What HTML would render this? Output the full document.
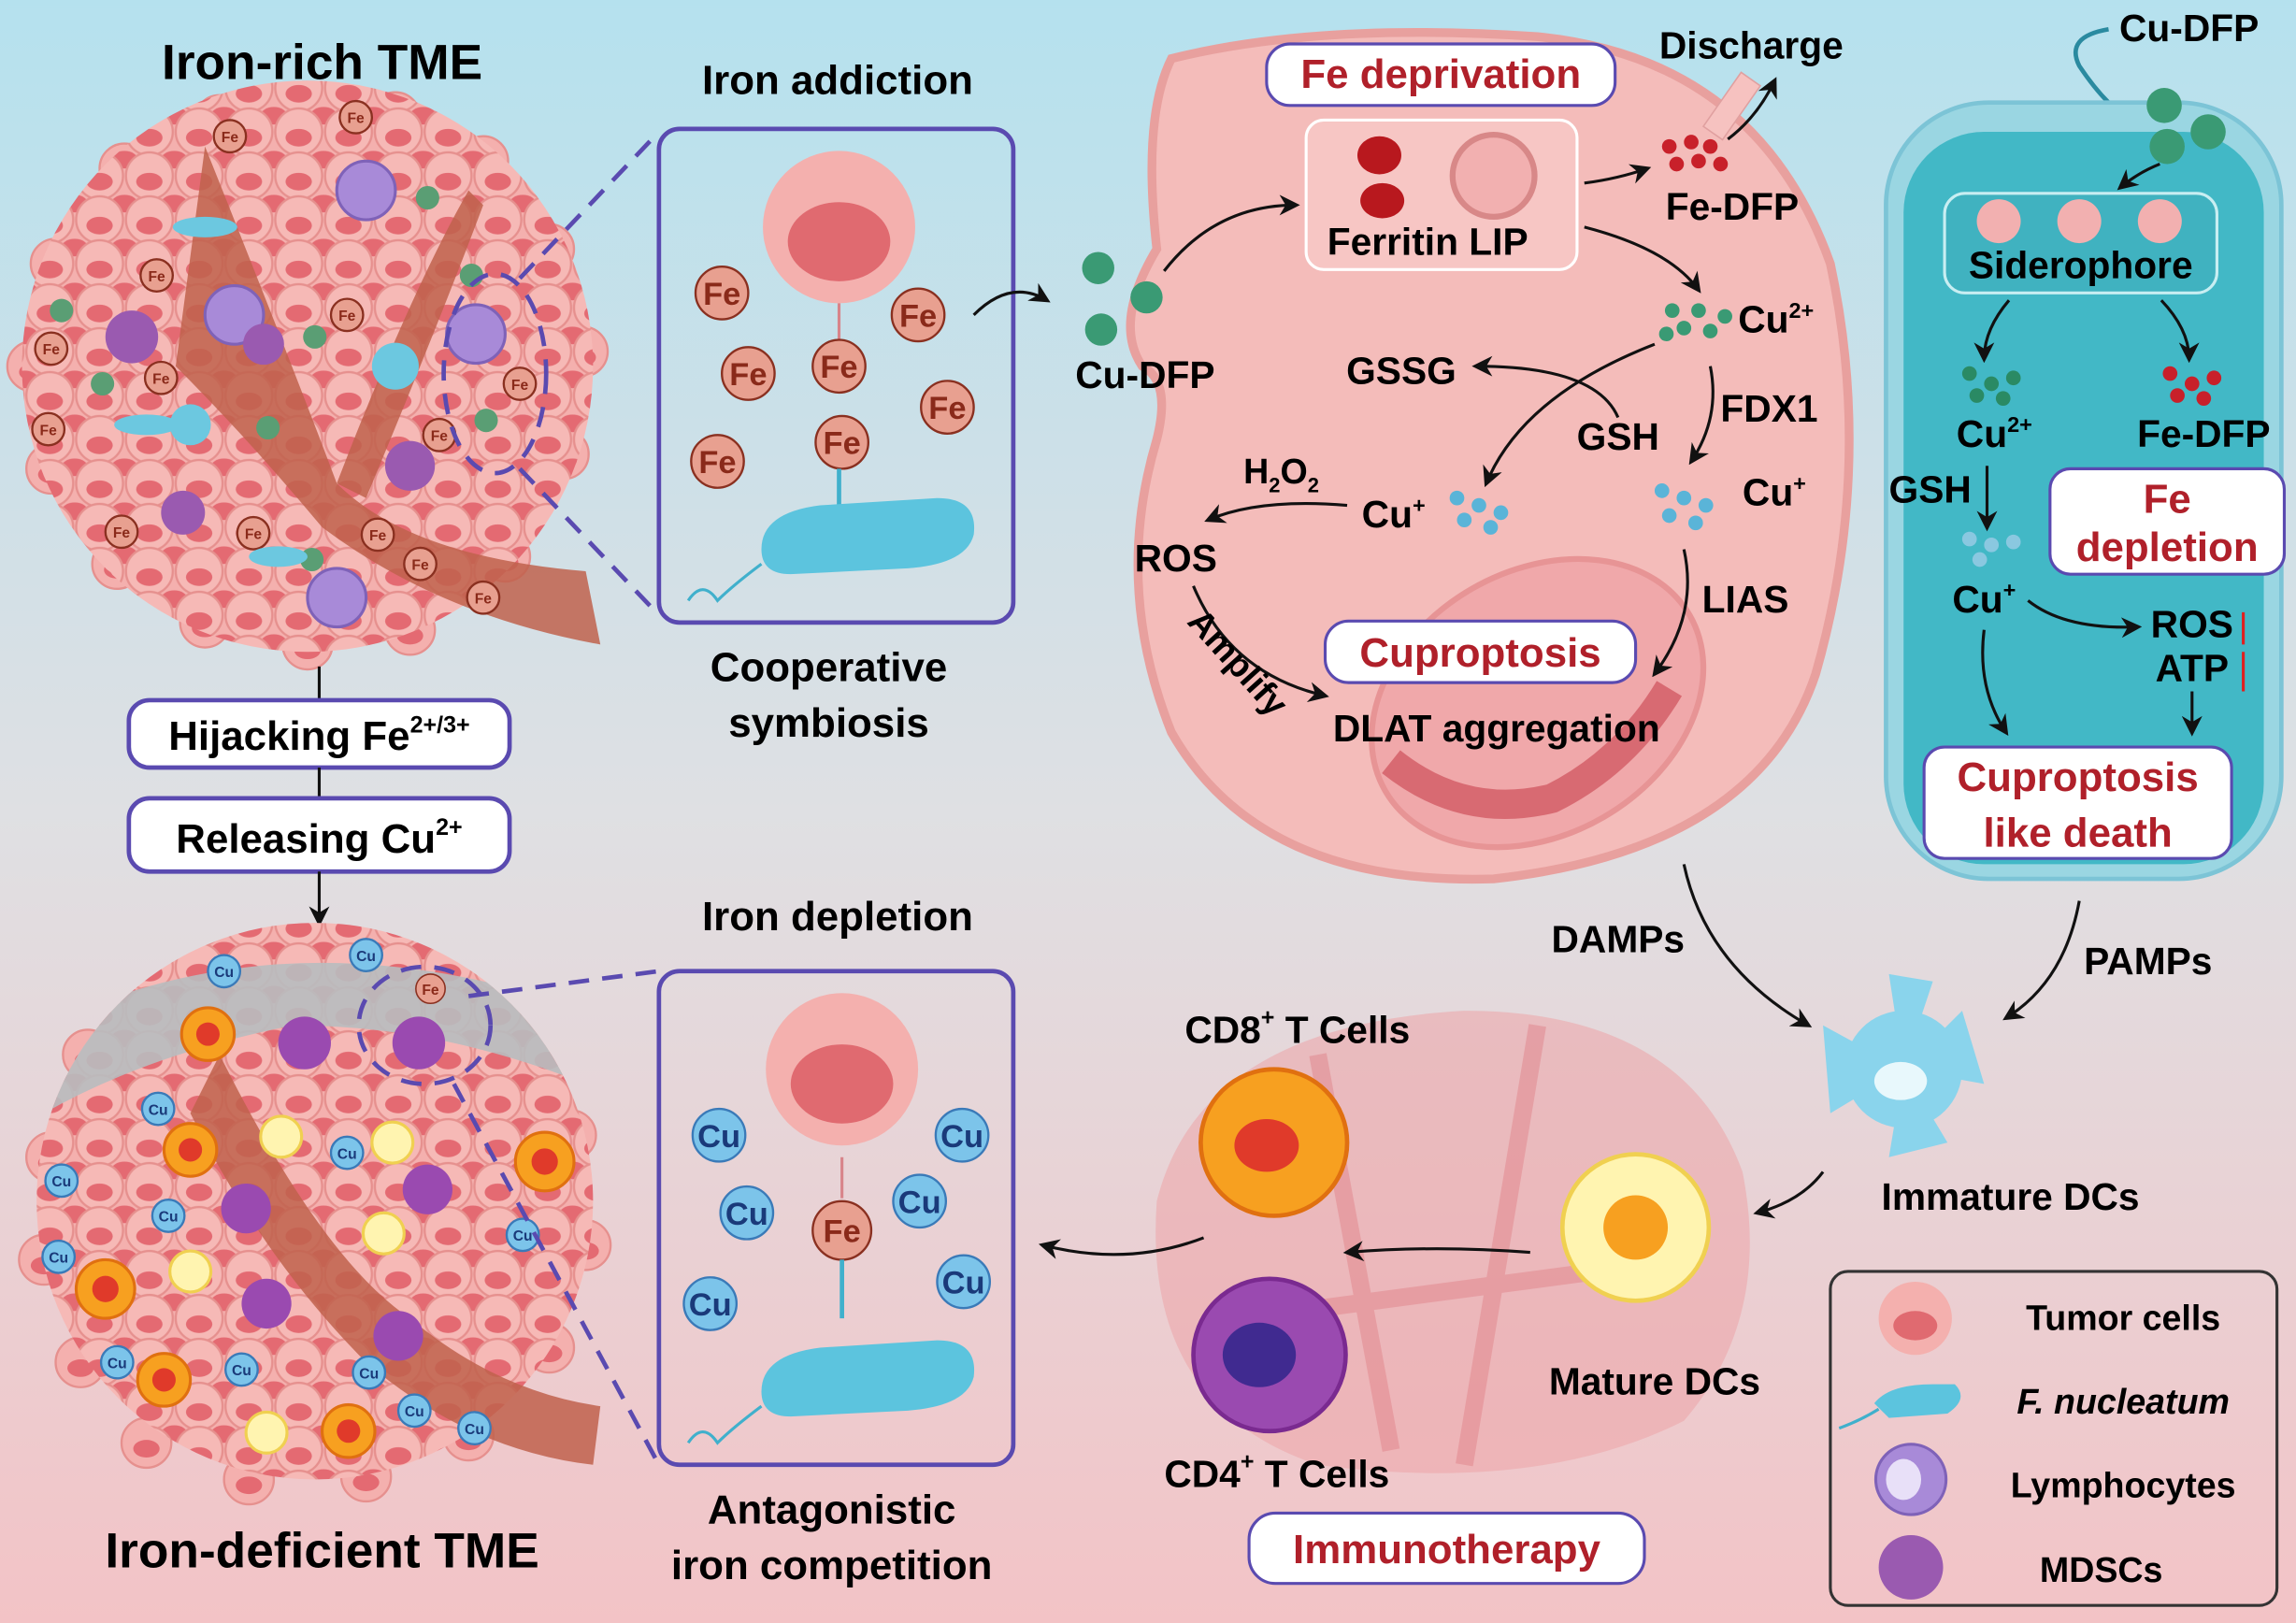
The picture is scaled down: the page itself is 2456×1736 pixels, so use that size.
<!DOCTYPE html>
<html><head><meta charset="utf-8"><style>
html,body{margin:0;padding:0;width:2456px;height:1736px;overflow:hidden}
svg{display:block}
text{font-family:"Liberation Sans",Arial,sans-serif;font-weight:bold}
</style></head><body>
<svg width="2456" height="1736" viewBox="0 0 1568 1108" preserveAspectRatio="none" xmlns="http://www.w3.org/2000/svg">
<defs>
<linearGradient id="bg" x1="0" y1="0" x2="0" y2="1">
<stop offset="0" stop-color="#b5e1ee"/><stop offset="0.5" stop-color="#dfe0e3"/><stop offset="1" stop-color="#f3c3c6"/>
</linearGradient>
<pattern id="cells" width="34" height="30" patternUnits="userSpaceOnUse">
<circle cx="17" cy="15" r="16" fill="#f4b0ae" stroke="#e6908e" stroke-width="1.5"/>
<ellipse cx="17" cy="19" rx="9" ry="6" fill="#e46a72"/>
<circle cx="0" cy="0" r="16" fill="#f6b9b6" stroke="#e6908e" stroke-width="1.5"/>
<ellipse cx="0" cy="4" rx="9" ry="6" fill="#e46a72"/>
<circle cx="34" cy="0" r="16" fill="#f6b9b6" stroke="#e6908e" stroke-width="1.5"/>
<ellipse cx="34" cy="4" rx="9" ry="6" fill="#e46a72"/>
<circle cx="0" cy="30" r="16" fill="#f6b9b6" stroke="#e6908e" stroke-width="1.5"/>
<ellipse cx="0" cy="34" rx="9" ry="6" fill="#e46a72"/>
<circle cx="34" cy="30" r="16" fill="#f6b9b6" stroke="#e6908e" stroke-width="1.5"/>
<ellipse cx="34" cy="34" rx="9" ry="6" fill="#e46a72"/>
</pattern>
<marker id="ah" viewBox="0 0 10 10" refX="8" refY="5" markerWidth="7" markerHeight="7" orient="auto"><path d="M0,0L10,5L0,10L3,5z" fill="#111"/></marker>
<clipPath id="c1"><circle cx="210" cy="250" r="195"/></clipPath>
<clipPath id="c2"><circle cx="215" cy="820" r="190"/></clipPath>
<g id="pc"><circle r="17" fill="#f4b0ae" stroke="#e6908e" stroke-width="1.5"/><ellipse cy="4" rx="9" ry="6" fill="#e46a72"/></g>
</defs>
<rect width="1568" height="1108" fill="url(#bg)"/>

<!-- Top tumor -->
<g>
<use href="#pc" x="150" y="82"/><use href="#pc" x="210" y="76"/><use href="#pc" x="270" y="80"/><use href="#pc" x="330" y="110"/><use href="#pc" x="375" y="170"/><use href="#pc" x="398" y="240"/><use href="#pc" x="385" y="310"/><use href="#pc" x="345" y="380"/><use href="#pc" x="280" y="430"/><use href="#pc" x="210" y="440"/><use href="#pc" x="140" y="425"/><use href="#pc" x="80" y="385"/><use href="#pc" x="35" y="320"/><use href="#pc" x="22" y="250"/><use href="#pc" x="38" y="180"/><use href="#pc" x="85" y="115"/>
</g>
<g clip-path="url(#c1)"><rect x="0" y="40" width="420" height="420" fill="url(#cells)"/></g>
<text x="220" y="54" font-size="34" text-anchor="middle">Iron-rich TME</text>
<path d="M140,100 Q200,250 230,330 Q280,380 400,390 L410,440 Q300,420 220,360 Q170,300 120,250 Z" fill="#c0624c" opacity="0.85"/>
<path d="M230,330 Q280,200 320,130 L330,140 Q300,220 250,340Z" fill="#c0624c" opacity="0.85"/>
<g fill="#a88ad8" stroke="#7f62b8" stroke-width="2">
<circle cx="250" cy="130" r="20"/><circle cx="160" cy="215" r="20"/><circle cx="325" cy="228" r="20"/><circle cx="230" cy="408" r="20"/></g>
<g fill="#9a5ab0"><circle cx="90" cy="230" r="18"/><circle cx="280" cy="318" r="17"/><circle cx="125" cy="350" r="15"/><circle cx="180" cy="235" r="14"/></g>
<g fill="#5a9e74"><circle cx="292" cy="135" r="8"/><circle cx="322" cy="188" r="8"/><circle cx="42" cy="212" r="8"/><circle cx="70" cy="262" r="8"/><circle cx="183" cy="292" r="8"/><circle cx="215" cy="230" r="8"/><circle cx="332" cy="287" r="8"/><circle cx="213" cy="382" r="8"/></g>
<g fill="#e8a090" stroke="#8a3020" stroke-width="1.5">
<circle cx="157" cy="93" r="11"/><circle cx="243" cy="80" r="11"/><circle cx="107" cy="188" r="11"/><circle cx="237" cy="215" r="11"/><circle cx="35" cy="238" r="11"/><circle cx="110" cy="258" r="11"/><circle cx="33" cy="293" r="11"/><circle cx="355" cy="262" r="11"/><circle cx="300" cy="297" r="11"/><circle cx="83" cy="363" r="11"/><circle cx="173" cy="364" r="11"/><circle cx="258" cy="365" r="11"/><circle cx="287" cy="385" r="11"/><circle cx="330" cy="408" r="11"/></g>
<g font-size="10" fill="#8a2a1a" text-anchor="middle">
<text x="157" y="97">Fe</text><text x="243" y="84">Fe</text><text x="107" y="192">Fe</text><text x="237" y="219">Fe</text><text x="35" y="242">Fe</text><text x="110" y="262">Fe</text><text x="33" y="297">Fe</text><text x="355" y="266">Fe</text><text x="300" y="301">Fe</text><text x="83" y="367">Fe</text><text x="173" y="368">Fe</text><text x="258" y="369">Fe</text><text x="287" y="389">Fe</text><text x="330" y="412">Fe</text></g>
<g fill="#6cc8e0"><ellipse cx="140" cy="155" rx="22" ry="7"/><ellipse cx="100" cy="290" rx="22" ry="7"/><ellipse cx="270" cy="250" rx="16" ry="16"/><ellipse cx="190" cy="380" rx="20" ry="7"/><ellipse cx="130" cy="290" rx="14" ry="14"/></g>
<ellipse cx="338" cy="255" rx="35" ry="68" fill="none" stroke="#5a4ab0" stroke-width="3" stroke-dasharray="14 9"/>
<path d="M355,190 L450,90 M355,320 L450,420" stroke="#5a4ab0" stroke-width="3" stroke-dasharray="14 9"/>

<line x1="218" y1="455" x2="218" y2="478" stroke="#111" stroke-width="2"/>
<rect x="88" y="478" width="260" height="46" rx="14" fill="#fff" stroke="#5a4ab0" stroke-width="3"/>
<text x="218" y="512" font-size="28" text-anchor="middle">Hijacking Fe<tspan font-size="16" dy="-12">2+/3+</tspan></text>
<line x1="218" y1="524" x2="218" y2="545" stroke="#111" stroke-width="2"/>
<rect x="88" y="545" width="260" height="50" rx="14" fill="#fff" stroke="#5a4ab0" stroke-width="3"/>
<text x="218" y="582" font-size="28" text-anchor="middle">Releasing Cu<tspan font-size="16" dy="-12">2+</tspan></text>
<line x1="218" y1="595" x2="218" y2="630" stroke="#111" stroke-width="2" marker-end="url(#ah)"/>

<!-- Bottom tumor -->
<g>
<use href="#pc" x="60" y="720"/><use href="#pc" x="35" y="790"/><use href="#pc" x="30" y="860"/><use href="#pc" x="55" y="930"/><use href="#pc" x="100" y="985"/><use href="#pc" x="170" y="1010"/><use href="#pc" x="250" y="1008"/><use href="#pc" x="320" y="980"/><use href="#pc" x="375" y="920"/><use href="#pc" x="400" y="850"/><use href="#pc" x="390" y="775"/>
</g>
<g clip-path="url(#c2)"><rect x="20" y="620" width="400" height="400" fill="url(#cells)"/><path d="M30,700 Q200,620 400,690 L400,740 Q300,700 200,700 Q100,720 30,760Z" fill="#b8bcbf" opacity="0.9"/></g>
<path d="M150,720 Q220,860 280,900 Q340,950 410,960 L405,1000 Q320,990 250,930 Q180,860 130,760Z" fill="#c0624c" opacity="0.85"/>
<g fill="#f7a020" stroke="#e07010" stroke-width="2"><circle cx="142" cy="706" r="18"/><circle cx="130" cy="785" r="18"/><circle cx="372" cy="793" r="20"/><circle cx="72" cy="880" r="20"/><circle cx="112" cy="942" r="18"/><circle cx="238" cy="977" r="18"/></g>
<g fill="#e03a2a"><circle cx="142" cy="706" r="8"/><circle cx="130" cy="785" r="8"/><circle cx="372" cy="793" r="9"/><circle cx="72" cy="880" r="9"/><circle cx="112" cy="942" r="8"/><circle cx="238" cy="977" r="8"/></g>
<g fill="#9a4ab0"><circle cx="208" cy="712" r="18"/><circle cx="286" cy="712" r="18"/><circle cx="168" cy="825" r="17"/><circle cx="292" cy="812" r="17"/><circle cx="182" cy="890" r="17"/><circle cx="272" cy="912" r="17"/></g>
<g fill="#fff4b0" stroke="#f0d050" stroke-width="2"><circle cx="192" cy="776" r="14"/><circle cx="268" cy="780" r="14"/><circle cx="262" cy="842" r="14"/><circle cx="130" cy="868" r="14"/><circle cx="182" cy="978" r="14"/></g>
<g fill="#7cc4ea" stroke="#3a7ab8" stroke-width="1.5"><circle cx="153" cy="663" r="11"/><circle cx="250" cy="652" r="11"/><circle cx="108" cy="757" r="11"/><circle cx="42" cy="806" r="11"/><circle cx="115" cy="830" r="11"/><circle cx="40" cy="858" r="11"/><circle cx="237" cy="787" r="11"/><circle cx="357" cy="843" r="11"/><circle cx="80" cy="930" r="11"/><circle cx="165" cy="935" r="11"/><circle cx="252" cy="937" r="11"/><circle cx="283" cy="963" r="11"/><circle cx="324" cy="975" r="11"/></g>
<g font-size="10" fill="#1a3a7a" text-anchor="middle"><text x="153" y="667">Cu</text><text x="250" y="656">Cu</text><text x="108" y="761">Cu</text><text x="42" y="810">Cu</text><text x="115" y="834">Cu</text><text x="40" y="862">Cu</text><text x="237" y="791">Cu</text><text x="357" y="847">Cu</text><text x="80" y="934">Cu</text><text x="165" y="939">Cu</text><text x="252" y="941">Cu</text><text x="283" y="967">Cu</text><text x="324" y="979">Cu</text></g>
<circle cx="294" cy="675" r="10" fill="#e8a090" stroke="#8a3020"/><text x="294" y="679" font-size="10" fill="#8a2a1a" text-anchor="middle">Fe</text>
<ellipse cx="290" cy="700" rx="45" ry="40" fill="none" stroke="#5a4ab0" stroke-width="3" stroke-dasharray="14 9"/>
<path d="M320,680 L450,663 M310,740 L450,1000" stroke="#5a4ab0" stroke-width="3" stroke-dasharray="14 9"/>
<text x="220" y="1070" font-size="34" text-anchor="middle">Iron-deficient TME</text>

<!-- Iron addiction box -->
<text x="572" y="64" font-size="28" text-anchor="middle">Iron addiction</text>
<rect x="450" y="88" width="242" height="337" rx="14" fill="none" stroke="#5a4ab0" stroke-width="3"/>
<circle cx="573" cy="155" r="52" fill="#f4b0ae"/><ellipse cx="573" cy="165" rx="35" ry="27" fill="#e06a70"/>
<path d="M573,207 V235 M565,242 Q573,230 581,242" stroke="#d8848a" stroke-width="2" fill="none"/>
<g fill="#e8a090" stroke="#8a3020" stroke-width="1.5"><circle cx="493" cy="200" r="18"/><circle cx="627" cy="215" r="18"/><circle cx="511" cy="255" r="18"/><circle cx="573" cy="250" r="18"/><circle cx="647" cy="278" r="18"/><circle cx="575" cy="302" r="18"/><circle cx="490" cy="315" r="18"/></g>
<g font-size="22" fill="#8a2a1a" text-anchor="middle"><text x="493" y="208">Fe</text><text x="627" y="223">Fe</text><text x="511" y="263">Fe</text><text x="573" y="258">Fe</text><text x="647" y="286">Fe</text><text x="575" y="310">Fe</text><text x="490" y="323">Fe</text></g>
<path d="M573,320 V345" stroke="#40b0cc" stroke-width="3"/>
<path d="M520,375 Q520,350 560,345 L640,340 Q668,340 665,365 Q660,385 620,388 L540,392 Q520,392 520,375Z" fill="#5cc4de"/>
<path d="M520,385 Q500,400 490,410 Q480,395 470,410" stroke="#40b0cc" stroke-width="2" fill="none"/>
<text x="566" y="465" font-size="28" text-anchor="middle">Cooperative</text>
<text x="566" y="503" font-size="28" text-anchor="middle">symbiosis</text>
<path d="M665,215 Q690,190 715,205" stroke="#111" stroke-width="2" fill="none" marker-end="url(#ah)"/>

<!-- Iron depletion box -->
<text x="572" y="635" font-size="28" text-anchor="middle">Iron depletion</text>
<rect x="450" y="663" width="242" height="337" rx="14" fill="none" stroke="#5a4ab0" stroke-width="3"/>
<circle cx="575" cy="730" r="52" fill="#f4b0ae"/><ellipse cx="575" cy="740" rx="35" ry="27" fill="#e06a70"/>
<g fill="#7cc4ea" stroke="#3a7ab8" stroke-width="1.5"><circle cx="491" cy="775" r="18"/><circle cx="657" cy="775" r="18"/><circle cx="510" cy="828" r="18"/><circle cx="628" cy="820" r="18"/><circle cx="485" cy="890" r="18"/><circle cx="658" cy="875" r="18"/></g>
<g font-size="22" fill="#1a3a7a" text-anchor="middle"><text x="491" y="783">Cu</text><text x="657" y="783">Cu</text><text x="510" y="836">Cu</text><text x="628" y="828">Cu</text><text x="485" y="898">Cu</text><text x="658" y="883">Cu</text></g>
<circle cx="575" cy="840" r="20" fill="#e8a090" stroke="#8a3020" stroke-width="1.5"/><text x="575" y="848" font-size="22" fill="#8a2a1a" text-anchor="middle">Fe</text>
<path d="M575,790 V818" stroke="#d8848a" stroke-width="2"/>
<path d="M575,860 V900" stroke="#40b0cc" stroke-width="3"/>
<path d="M520,950 Q520,925 560,920 L640,915 Q668,915 665,940 Q660,960 620,963 L540,967 Q520,967 520,950Z" fill="#5cc4de"/>
<path d="M520,960 Q500,975 490,985 Q480,970 470,985" stroke="#40b0cc" stroke-width="2" fill="none"/>
<text x="568" y="1040" font-size="28" text-anchor="middle">Antagonistic</text>
<text x="568" y="1078" font-size="28" text-anchor="middle">iron competition</text>

<!-- Tumor cell big -->
<path d="M800,40 Q900,15 1050,25 Q1200,40 1250,180 Q1280,320 1240,460 Q1200,580 1020,600 Q860,605 800,500 Q760,400 790,300 Q800,260 780,250 Q760,220 790,170 Q780,80 800,40Z" fill="#f4bcba" stroke="#e8a09e" stroke-width="6"/>
<rect x="1175" y="50" width="16" height="45" fill="#f6c2c0" stroke="#e0a0a0" transform="rotate(35 1183 72)"/>
<ellipse cx="1050" cy="480" rx="120" ry="90" fill="#f0a8aa" stroke="#e79495" stroke-width="4" transform="rotate(-30 1050 480)"/>
<path d="M950,520 Q1000,560 1060,545 Q1110,520 1140,470" stroke="#d86a72" stroke-width="20" fill="none"/>
<rect x="865" y="30" width="238" height="42" rx="16" fill="#fff" stroke="#5a4ab0" stroke-width="2"/>
<text x="984" y="60" font-size="28" fill="#b0202a" text-anchor="middle">Fe deprivation</text>
<text x="1196" y="40" font-size="26" text-anchor="middle">Discharge</text>
<path d="M1180,95 Q1200,80 1212,55" stroke="#111" stroke-width="2" fill="none" marker-end="url(#ah)"/>
<rect x="892" y="82" width="185" height="102" rx="12" fill="#f7c6c4" stroke="#fff" stroke-width="2"/>
<ellipse cx="942" cy="106" rx="15" ry="13" fill="#b8181e"/><ellipse cx="944" cy="137" rx="15" ry="12" fill="#b8181e"/>
<circle cx="1020" cy="120" r="28" fill="#f2b0b0" stroke="#d88888" stroke-width="4"/>
<text x="975" y="174" font-size="26" text-anchor="middle">Ferritin LIP</text>
<g fill="#c8202a"><circle cx="1140" cy="100" r="5"/><circle cx="1155" cy="97" r="5"/><circle cx="1168" cy="100" r="5"/><circle cx="1145" cy="112" r="5"/><circle cx="1160" cy="110" r="5"/><circle cx="1175" cy="112" r="5"/></g>
<path d="M1082,125 Q1105,122 1125,115" stroke="#111" stroke-width="2" fill="none" marker-end="url(#ah)"/>
<text x="1183" y="150" font-size="26" text-anchor="middle">Fe-DFP</text>
<path d="M1082,155 Q1140,170 1160,198" stroke="#111" stroke-width="2" fill="none" marker-end="url(#ah)"/>
<g fill="#3a9a74"><circle cx="1142" cy="212" r="5"/><circle cx="1160" cy="212" r="5"/><circle cx="1150" cy="224" r="5"/><circle cx="1168" cy="226" r="5"/><circle cx="1138" cy="228" r="5"/><circle cx="1178" cy="216" r="5"/></g>
<text x="1187" y="227" font-size="26">Cu<tspan font-size="15" dy="-10">2+</tspan></text>
<g fill="#3a9a74"><circle cx="750" cy="183" r="11"/><circle cx="783" cy="203" r="11"/><circle cx="752" cy="225" r="11"/></g>
<text x="782" y="265" font-size="26" text-anchor="middle">Cu-DFP</text>
<path d="M795,185 Q830,140 885,140" stroke="#111" stroke-width="2" fill="none" marker-end="url(#ah)"/>
<text x="957" y="262" font-size="26" text-anchor="middle">GSSG</text>
<path d="M1105,285 Q1090,250 1008,250" stroke="#111" stroke-width="2" fill="none" marker-end="url(#ah)"/>
<text x="1105" y="307" font-size="26" text-anchor="middle">GSH</text>
<path d="M1130,235 Q1040,270 1015,330" stroke="#111" stroke-width="2" fill="none" marker-end="url(#ah)"/>
<text x="1175" y="288" font-size="26">FDX1</text>
<path d="M1168,250 Q1175,285 1155,315" stroke="#111" stroke-width="2" fill="none" marker-end="url(#ah)"/>
<text x="875" y="330" font-size="24" text-anchor="middle">H<tspan font-size="14" dy="6">2</tspan><tspan dy="-6">O</tspan><tspan font-size="14" dy="6">2</tspan></text>
<text x="930" y="360" font-size="26">Cu<tspan font-size="15" dy="-10">+</tspan></text>
<g fill="#5ab4d8"><circle cx="995" cy="340" r="5"/><circle cx="1010" cy="345" r="5"/><circle cx="1025" cy="350" r="5"/><circle cx="1000" cy="355" r="5"/><circle cx="1018" cy="360" r="5"/></g>
<g fill="#5ab4d8"><circle cx="1135" cy="335" r="5"/><circle cx="1150" cy="340" r="5"/><circle cx="1165" cy="345" r="5"/><circle cx="1140" cy="352" r="5"/><circle cx="1158" cy="357" r="5"/></g>
<text x="1190" y="345" font-size="26">Cu<tspan font-size="15" dy="-10">+</tspan></text>
<path d="M920,345 Q860,340 825,355" stroke="#111" stroke-width="2" fill="none" marker-end="url(#ah)"/>
<text x="803" y="390" font-size="26" text-anchor="middle">ROS</text>
<path d="M1150,375 Q1160,420 1130,460" stroke="#111" stroke-width="2" fill="none" marker-end="url(#ah)"/>
<text x="1192" y="418" font-size="26" text-anchor="middle">LIAS</text>
<path d="M815,400 Q840,460 905,475" stroke="#111" stroke-width="2" fill="none" marker-end="url(#ah)"/>
<text x="810" y="425" font-size="24" transform="rotate(48 810 425)">Amplify</text>
<rect x="905" y="424" width="212" height="42" rx="16" fill="#fff" stroke="#5a4ab0" stroke-width="2"/>
<text x="1011" y="455" font-size="28" fill="#b0202a" text-anchor="middle">Cuproptosis</text>
<text x="1022" y="506" font-size="26" text-anchor="middle">DLAT aggregation</text>

<!-- Bacterium -->
<path d="M1440,20 Q1410,25 1420,45 Q1430,60 1440,70" stroke="#2a8aa0" stroke-width="3" fill="none"/>
<rect x="1288" y="70" width="270" height="530" rx="70" fill="#9ad6e2" stroke="#7cc4d6" stroke-width="3"/>
<rect x="1300" y="90" width="246" height="500" rx="55" fill="#42b8c6"/>
<g fill="#3a9a74"><circle cx="1478" cy="72" r="12"/><circle cx="1508" cy="90" r="12"/><circle cx="1480" cy="100" r="12"/></g>
<text x="1495" y="28" font-size="26" text-anchor="middle">Cu-DFP</text>
<path d="M1475,112 Q1460,118 1448,128" stroke="#111" stroke-width="2" fill="none" marker-end="url(#ah)"/>
<rect x="1328" y="132" width="186" height="68" rx="14" fill="#40b2c0" stroke="#c8eef2" stroke-width="2"/>
<g fill="#f2b0b0"><circle cx="1365" cy="151" r="15"/><circle cx="1420" cy="151" r="15"/><circle cx="1475" cy="151" r="15"/></g>
<text x="1421" y="190" font-size="26" text-anchor="middle">Siderophore</text>
<path d="M1372,205 Q1355,225 1355,245" stroke="#111" stroke-width="2" fill="none" marker-end="url(#ah)"/>
<path d="M1476,205 Q1495,225 1495,245" stroke="#111" stroke-width="2" fill="none" marker-end="url(#ah)"/>
<g fill="#2a8a64"><circle cx="1345" cy="255" r="5"/><circle cx="1360" cy="262" r="5"/><circle cx="1375" cy="258" r="5"/><circle cx="1350" cy="270" r="5"/><circle cx="1368" cy="272" r="5"/></g>
<g fill="#c8202a"><circle cx="1482" cy="255" r="5"/><circle cx="1497" cy="262" r="5"/><circle cx="1512" cy="258" r="5"/><circle cx="1487" cy="270" r="5"/><circle cx="1505" cy="272" r="5"/></g>
<text x="1362" y="305" font-size="26" text-anchor="middle">Cu<tspan font-size="15" dy="-10">2+</tspan></text>
<text x="1505" y="305" font-size="26" text-anchor="middle">Fe-DFP</text>
<text x="1290" y="343" font-size="26">GSH</text>
<path d="M1357,318 V360" stroke="#111" stroke-width="2" marker-end="url(#ah)"/>
<g fill="#8ac8e0"><circle cx="1345" cy="368" r="5"/><circle cx="1360" cy="372" r="5"/><circle cx="1375" cy="370" r="5"/><circle cx="1352" cy="382" r="5"/></g>
<rect x="1400" y="320" width="160" height="72" rx="14" fill="#fff" stroke="#5a4ab0" stroke-width="2"/>
<text x="1480" y="350" font-size="28" fill="#b0202a" text-anchor="middle">Fe</text>
<text x="1480" y="383" font-size="28" fill="#b0202a" text-anchor="middle">depletion</text>
<text x="1355" y="418" font-size="26" text-anchor="middle">Cu<tspan font-size="15" dy="-10">+</tspan></text>
<path d="M1385,410 Q1410,430 1460,428" stroke="#111" stroke-width="2" fill="none" marker-end="url(#ah)"/>
<text x="1497" y="435" font-size="26" text-anchor="middle">ROS</text>
<text x="1497" y="465" font-size="26" text-anchor="middle">ATP</text>
<path d="M1532,440 V418 M1532,445 V472" stroke="#e02020" stroke-width="2"/>
<path d="M1355,430 Q1350,470 1370,500" stroke="#111" stroke-width="2" fill="none" marker-end="url(#ah)"/>
<path d="M1497,472 V500" stroke="#111" stroke-width="2" marker-end="url(#ah)"/>
<rect x="1314" y="510" width="210" height="76" rx="14" fill="#fff" stroke="#5a4ab0" stroke-width="2"/>
<text x="1419" y="540" font-size="28" fill="#b0202a" text-anchor="middle">Cuproptosis</text>
<text x="1419" y="578" font-size="28" fill="#b0202a" text-anchor="middle">like death</text>

<!-- Immune -->
<text x="1105" y="650" font-size="26" text-anchor="middle">DAMPs</text>
<path d="M1150,590 Q1165,660 1235,700" stroke="#111" stroke-width="2" fill="none" marker-end="url(#ah)"/>
<text x="1467" y="665" font-size="26" text-anchor="middle">PAMPs</text>
<path d="M1420,615 Q1410,670 1370,695" stroke="#111" stroke-width="2" fill="none" marker-end="url(#ah)"/>
<g fill="#8ad4ec"><circle cx="1300" cy="730" r="40"/><path d="M1245,700 L1300,730 L1250,760Z M1340,690 L1300,730 L1355,740Z M1290,665 L1300,730 L1320,670Z M1290,790 L1300,730 L1330,780Z"/></g>
<ellipse cx="1298" cy="738" rx="18" ry="13" fill="#e8f8fc"/>
<text x="1373" y="826" font-size="26" text-anchor="middle">Immature DCs</text>
<path d="M1245,800 Q1230,820 1200,828" stroke="#111" stroke-width="2" fill="none" marker-end="url(#ah)"/>
<path d="M790,820 Q820,700 1000,690 Q1150,690 1190,800 Q1210,900 1150,970 Q1050,1020 900,1000 Q780,960 790,820Z" fill="#eca4a8" opacity="0.55"/>
<path d="M1050,700 L1000,1000 M900,720 L950,990 M850,900 L1150,860" stroke="#e07f86" stroke-width="12" opacity="0.45"/>
<g fill="#fff4b0" stroke="#f0d050" stroke-width="3"><circle cx="1117" cy="838" r="50"/></g>
<circle cx="1117" cy="838" r="22" fill="#f7a020"/>
<text x="1130" y="952" font-size="26" text-anchor="middle">Mature DCs</text>
<path d="M1045,855 Q980,850 920,855" stroke="#111" stroke-width="2" fill="none" marker-end="url(#ah)"/>
<text x="886" y="712" font-size="26" text-anchor="middle">CD8<tspan font-size="16" dy="-12">+</tspan><tspan dy="12"> T Cells</tspan></text>
<circle cx="870" cy="780" r="50" fill="#f7a020" stroke="#e07010" stroke-width="3"/><ellipse cx="865" cy="782" rx="22" ry="18" fill="#e03a2a"/>
<circle cx="867" cy="925" r="52" fill="#9a4ab0" stroke="#7a2a90" stroke-width="3"/><ellipse cx="860" cy="925" rx="25" ry="22" fill="#402a90"/>
<text x="872" y="1015" font-size="26" text-anchor="middle">CD4<tspan font-size="16" dy="-12">+</tspan><tspan dy="12"> T Cells</tspan></text>
<path d="M822,845 Q770,865 712,850" stroke="#111" stroke-width="2" fill="none" marker-end="url(#ah)"/>
<rect x="853" y="1033" width="270" height="48" rx="18" fill="#fff" stroke="#5a4ab0" stroke-width="2"/>
<text x="988" y="1067" font-size="28" fill="#b0202a" text-anchor="middle">Immunotherapy</text>

<!-- Legend -->
<rect x="1250" y="868" width="305" height="228" rx="12" fill="none" stroke="#333" stroke-width="2"/>
<circle cx="1308" cy="900" r="25" fill="#f4b0ae"/><ellipse cx="1308" cy="905" rx="15" ry="10" fill="#e06a70"/>
<text x="1450" y="908" font-size="24" text-anchor="middle">Tumor cells</text>
<path d="M1280,958 Q1290,945 1320,945 L1335,945 Q1345,955 1330,965 L1290,968Z" fill="#5cc4de"/>
<path d="M1283,962 Q1270,970 1256,975" stroke="#40b0cc" stroke-width="2" fill="none"/>
<text x="1450" y="965" font-size="24" font-style="italic" text-anchor="middle">F. nucleatum</text>
<circle cx="1305" cy="1010" r="24" fill="#a88ad8" stroke="#7f62b8" stroke-width="2"/><ellipse cx="1300" cy="1010" rx="12" ry="14" fill="#e8e0f8"/>
<text x="1450" y="1022" font-size="24" text-anchor="middle">Lymphocytes</text>
<circle cx="1305" cy="1070" r="22" fill="#9a5ab0"/>
<text x="1435" y="1080" font-size="24" text-anchor="middle">MDSCs</text>
</svg>
</body></html>
